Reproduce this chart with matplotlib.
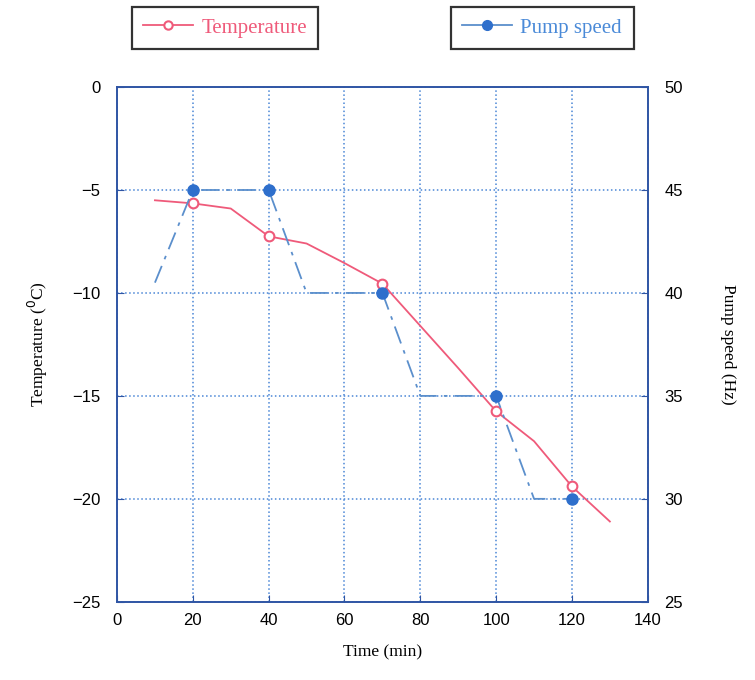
import matplotlib.pyplot as plt
from matplotlib.lines import Line2D

# Data
temp_time = [10, 20, 30, 40, 50, 60, 70, 80, 90, 100, 110, 120, 130]
temp_vals = [-5.5, -5.65, -5.9, -7.25, -7.6, -8.55, -9.55, -11.6, -13.65, -15.75, -17.2, -19.4, -21.1]
temp_marker_idx = [1, 3, 6, 9, 11]

pump_time = [10, 20, 40, 50, 70, 80, 100, 110, 120]
pump_vals = [40.5, 45, 45, 40, 40, 35, 35, 30, 30]
pump_marker_idx = [1, 2, 4, 6, 8]

x_ticks = [0, 20, 40, 60, 80, 100, 120, 140]
temp_ticks = [0, -5, -10, -15, -20, -25]
pump_ticks = [50, 45, 40, 35, 30, 25]

red = '#ef5a7a'
blue = '#2e6fcc'
blue_line = '#5b8fcc'
grid_col = '#4a86d6'
spine_col = '#2f55a4'
serif = ['Liberation Serif', 'DejaVu Serif']
sans = ['Liberation Sans', 'DejaVu Sans']

fig = plt.figure(figsize=(7.55, 6.8), dpi=100)
ax = fig.add_axes([0.155, 0.115, 0.703, 0.757])
ax2 = ax.twinx()

ax.plot(temp_time, temp_vals, color=red, lw=1.3, marker='o', markevery=temp_marker_idx,
        markersize=7, markerfacecolor='white', markeredgecolor=red, markeredgewidth=1.5, zorder=4)
ax2.plot(pump_time, pump_vals, color=blue_line, lw=1.3, linestyle=(0, (10, 4, 2, 4)),
         marker='o', markevery=pump_marker_idx, markersize=8, markerfacecolor=blue,
         markeredgecolor=blue, zorder=3)

ax.set_xlim(0, 140)
ax.set_ylim(-25, 0)
ax2.set_ylim(25, 50)
ax.set_xticks(x_ticks)
ax.set_yticks(temp_ticks)
ax2.set_yticks(pump_ticks)

ax.grid(True, color=grid_col, linestyle=':', lw=1.1)
for a in (ax, ax2):
    for s in a.spines.values():
        s.set_color(spine_col)
        s.set_linewidth(1.2)
    a.tick_params(direction='in', color=spine_col, length=5, labelsize=12)
    for lab in a.get_xticklabels() + a.get_yticklabels():
        lab.set_family(sans)
ax.tick_params(axis='y', pad=12)
ax2.tick_params(axis='y', pad=12)
ax.tick_params(axis='x', pad=8)

ax.set_xlabel('Time (min)', fontsize=12.5, family=serif, labelpad=12)
ax.set_ylabel('Temperature ($^0$C)', fontsize=12.5, family=serif, labelpad=16)
ax2.set_ylabel('Pump speed (Hz)', fontsize=12.5, family=serif, rotation=270, labelpad=38)

h1 = Line2D([], [], color=red, lw=1.3, marker='o', markersize=6,
            markerfacecolor='white', markeredgecolor=red, markeredgewidth=1.5)
h2 = Line2D([], [], color=blue_line, lw=1.3, marker='o', markersize=7,
            markerfacecolor=blue, markeredgecolor=blue)

leg1 = fig.legend([h1], ['Temperature'], loc='center', bbox_to_anchor=(0.298, 0.959),
                  frameon=True, fancybox=False, edgecolor='black', handlelength=2.4,
                  handletextpad=0.4, borderpad=0.55, borderaxespad=0,
                  prop={'family': serif, 'size': 15})
leg1.get_frame().set_linewidth(1.6)
leg1.get_texts()[0].set_color(red)
leg2 = fig.legend([h2], ['Pump speed'], loc='center', bbox_to_anchor=(0.718, 0.959),
                  frameon=True, fancybox=False, edgecolor='black', handlelength=2.4,
                  handletextpad=0.4, borderpad=0.55, borderaxespad=0,
                  prop={'family': serif, 'size': 15})
leg2.get_frame().set_linewidth(1.6)
leg2.get_texts()[0].set_color('#4a8ad8')

plt.savefig('out.png')
